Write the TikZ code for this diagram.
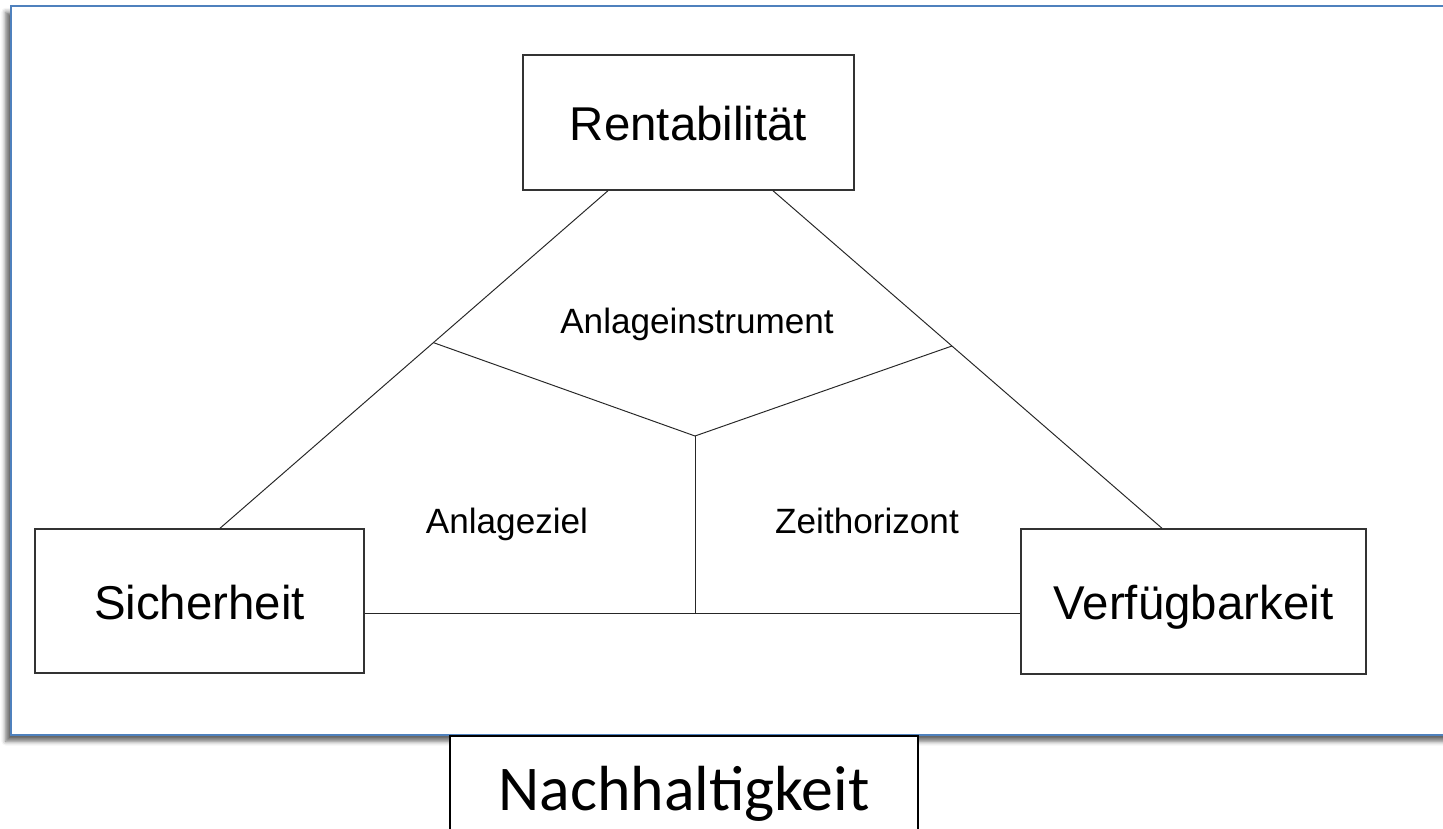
\documentclass[tikz,border=0pt]{standalone}
\usepackage{fontspec}
\setmainfont{Liberation Sans}
\newfontfamily\calibri{Carlito}
\usetikzlibrary{positioning}
\usetikzlibrary{calc}
\usetikzlibrary{shadows.blur}
\definecolor{frameblue}{RGB}{79,129,189}

\begin{document}
\begin{tikzpicture}[x=0.02cm, y=-0.02cm,
        goal/.style={draw=black!80, line width=0.85pt, fill=white, inner sep=0pt,
            text height=21pt, text depth=0pt, font=\fontsize{27}{32}\selectfont},
        aspect/.style={inner sep=0pt, anchor=base, font=\fontsize{20}{24}\selectfont},
        link/.style={draw=black!85, line width=0.55pt}]
        \useasboundingbox (0,0) rectangle (1443,828);
        \clip (0,0) rectangle (1443,828);
        % frame
        \draw[frameblue, line width=1.4pt, fill=white,
            blur shadow={shadow xshift=-3pt, shadow yshift=-3.5pt, shadow blur radius=2.5pt, shadow opacity=60}]
            (11,6) rectangle (1480,735);

        \node[goal, minimum width=6.62cm, minimum height=2.7cm] (rent) at (688.5,122.5) {Rentabilität};
        \node[goal, minimum width=6.58cm, minimum height=2.88cm] (sich) at (199.5,601) {Sicherheit};
        \node[goal, minimum width=6.9cm, minimum height=2.9cm] (verf) at (1193.5,601.5) {Verfügbarkeit};

        \coordinate (rl) at ($(rent.south)+(-80.5,0)$);
        \coordinate (rr) at ($(rent.south)+(84.5,0)$);
        \coordinate (st) at ($(sich.north)+(20.5,0)$);
        \coordinate (vt) at ($(verf.north)+(-31.5,0)$);
        \coordinate (se) at ($(sich.east)+(0,12)$);
        \coordinate (jl) at ($(rl)!0.45!(st)$);
        \coordinate (jr) at ($(rr)!0.46!(vt)$);
        \coordinate (mid) at (695,436);

        \draw[link] (rl) -- (st);
        \draw[link] (rr) -- (vt);
        \draw[link] (jl) -- (mid) -- (jr);
        \draw[link] (mid) -- (mid |- se);
        \draw[link] (se) -- (verf.west |- se);

        \node[aspect] (instr) at (697,333) {Anlageinstrument};
        \node[aspect] (ziel) at (507,533) {Anlageziel};
        \node[aspect] (zeit) at (867,533) {Zeithorizont};

        \node[draw=black, line width=1pt, fill=white, minimum width=9.36cm, minimum height=2.3cm,
            anchor=north, inner sep=0pt, font=\calibri\fontsize{36.3}{40}\selectfont] (nach) at (684,735) {Nachhaltigkeit};
    \end{tikzpicture}
\end{document}
